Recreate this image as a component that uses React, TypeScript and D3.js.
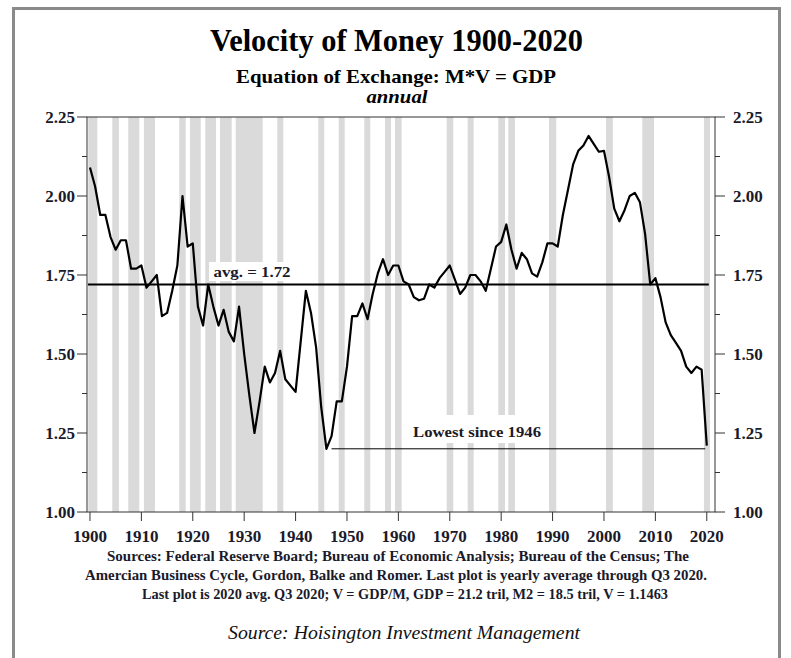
import React from "react";
import * as d3 from "d3";

// ---- data ----
const years: number[] = d3.range(1900, 2021);
const velocity: number[] = [
  2.09, 2.03, 1.94, 1.94, 1.87, 1.83, 1.86, 1.86, 1.77, 1.77,
  1.78, 1.71, 1.73, 1.75, 1.62, 1.63, 1.70, 1.78, 2.00, 1.84,
  1.85, 1.65, 1.59, 1.72, 1.65, 1.59, 1.64, 1.57, 1.54, 1.65,
  1.50, 1.37, 1.25, 1.35, 1.46, 1.41, 1.44, 1.51, 1.42, 1.40,
  1.38, 1.54, 1.70, 1.63, 1.52, 1.33, 1.20, 1.24, 1.35, 1.35,
  1.46, 1.62, 1.62, 1.66, 1.61, 1.69, 1.755, 1.80, 1.75, 1.78,
  1.78, 1.73, 1.72, 1.68, 1.67, 1.675, 1.72, 1.71, 1.74, 1.76,
  1.78, 1.735, 1.69, 1.71, 1.75, 1.75, 1.73, 1.70, 1.77, 1.84,
  1.855, 1.91, 1.83, 1.77, 1.82, 1.80, 1.755, 1.745, 1.79, 1.85,
  1.85, 1.84, 1.94, 2.02, 2.10, 2.143, 2.16, 2.19, 2.165, 2.14,
  2.143, 2.06, 1.96, 1.92, 1.955, 2.00, 2.01, 1.98, 1.88, 1.72,
  1.74, 1.68, 1.60, 1.56, 1.535, 1.51, 1.46, 1.44, 1.46, 1.45,
  1.21,
];
const recessionStart: number[] = [
  1899.67, 1904.34, 1907.45, 1910.5, 1917.37, 1919.46, 1922.43, 1925.29, 1928.35,
  1936.44, 1944.42, 1948.39, 1953.37, 1957.39, 1959.34, 1969.4, 1973.48,
  1979.44, 1981.38, 1989.3, 2000.4, 2007.45, 2019.45,
];
const recessionEnd: number[] = [
  1901.42, 1905.64, 1909.59, 1912.65, 1918.62, 1921.54, 1924.51, 1927.57, 1933.6,
  1937.61, 1945.58, 1949.55, 1954.53, 1958.56, 1960.64, 1970.68, 1974.65,
  1980.74, 1982.68, 1990.72, 2001.72, 2009.73, 2020.62,
];
const yMajorTicks: number[] = [1.0, 1.25, 1.5, 1.75, 2.0, 2.25];
const yMinorTicks: number[] = [1.125, 1.375, 1.625, 1.875, 2.125];
const xTicks: number[] = d3.range(1900, 2021, 10);
const average = 1.72;
const lowYear = 1946;
const lowValue = 1.2;

const title = "Velocity of Money 1900-2020";
const subtitle = "Equation of Exchange: M*V = GDP";
const subtitle2 = "annual";
const avgLabel = "avg. = 1.72";
const lowLabel = "Lowest since 1946";
const sourceLines: string[] = [
  "Sources: Federal Reserve Board; Bureau of Economic Analysis; Bureau of the Census; The",
  "Amercian Business Cycle, Gordon, Balke and Romer. Last plot is yearly average through Q3 2020.",
  "Last plot is 2020 avg.  Q3 2020; V = GDP/M, GDP = 21.2 tril, M2 = 18.5 tril, V = 1.1463",
];
const footer = "Source: Hoisington Investment Management";

// ---- layout ----
const W = 791;
const H = 658;
const left = 87;
const right = 715;
const top = 117;
const bottom = 512;
const serif = "'Liberation Serif', 'Times New Roman', serif";

export default function App() {
  const x = d3.scaleLinear().domain([1899.42, 2021.6]).range([left, right]);
  const y = d3.scaleLinear().domain([1, 2.25]).range([bottom, top]);
  const line = d3
    .line<number>()
    .x((_, i) => x(years[i]))
    .y((d) => y(d));

  const avgY = y(average);
  const lowY = y(lowValue);

  return (
    <svg
      width={W}
      height={H}
      style={{ position: "absolute", left: 0, top: 0, background: "#fff" }}
      fontFamily={serif}
    >
      <rect x={0} y={0} width={W} height={H} fill="#fff" />
      <rect x={13.5} y={8.5} width={766} height={680} fill="none" stroke="#8a8a8a" strokeWidth={3} />

      {/* titles */}
      <text x={396.5} y={51} textAnchor="middle" fontSize={31} fontWeight="bold" textLength={373} lengthAdjust="spacingAndGlyphs">
        {title}
      </text>
      <text x={396} y={83} textAnchor="middle" fontSize={19} fontWeight="bold" textLength={320} lengthAdjust="spacingAndGlyphs">
        {subtitle}
      </text>
      <text x={397} y={103} textAnchor="middle" fontSize={18} fontWeight="bold" fontStyle="italic" textLength={61} lengthAdjust="spacingAndGlyphs">
        {subtitle2}
      </text>

      {/* recession bands */}
      {recessionStart.map((s, i) => (
        <rect key={"r" + i} x={x(s)} y={top} width={x(recessionEnd[i]) - x(s)} height={bottom - top} fill="#dadada" />
      ))}

      {/* avg label box */}
      <rect x={209} y={262} width={85} height={19} fill="#fff" />
      <text x={252} y={277} textAnchor="middle" fontSize={15} fontWeight="bold" fill="#1a1a2a" textLength={77} lengthAdjust="spacingAndGlyphs">
        {avgLabel}
      </text>

      {/* low label box */}
      <rect x={405} y={415} width={140} height={28} fill="#fff" />
      <text x={477} y={437} textAnchor="middle" fontSize={15} fontWeight="bold" fill="#1a1a2a" textLength={128} lengthAdjust="spacingAndGlyphs">
        {lowLabel}
      </text>

      {/* average line */}
      <line x1={x(1899.6)} x2={x(2020.4)} y1={avgY} y2={avgY} stroke="#000" strokeWidth={2} />
      {/* lowest line */}
      <line x1={x(lowYear + 1)} x2={x(2019.7)} y1={lowY} y2={lowY} stroke="#000" strokeWidth={1} />

      {/* series */}
      <path d={line(velocity) || ""} fill="none" stroke="#000" strokeWidth={2.2} strokeLinejoin="round" />

      {/* frame */}
      <rect x={left} y={top} width={right - left} height={bottom - top} fill="none" stroke="#333" strokeWidth={1} />

      {/* y axes */}
      {yMajorTicks.map((t) => (
        <g key={"ym" + t}>
          <line x1={left - 10} x2={left} y1={y(t)} y2={y(t)} stroke="#333" />
          <line x1={right} x2={right + 10} y1={y(t)} y2={y(t)} stroke="#333" />
          <text x={75} y={y(t) + 5.5} textAnchor="end" fontSize={17} fontWeight="bold" fill="#1a1a2a">
            {t.toFixed(2)}
          </text>
          <text x={733} y={y(t) + 5.5} textAnchor="start" fontSize={17} fontWeight="bold" fill="#1a1a2a">
            {t.toFixed(2)}
          </text>
        </g>
      ))}
      {yMinorTicks.map((t) => (
        <g key={"yn" + t}>
          <line x1={left - 5} x2={left} y1={y(t)} y2={y(t)} stroke="#333" />
          <line x1={right} x2={right + 5} y1={y(t)} y2={y(t)} stroke="#333" />
        </g>
      ))}

      {/* x axis */}
      {xTicks.map((t) => (
        <g key={"x" + t}>
          <line x1={x(t)} x2={x(t)} y1={bottom} y2={bottom + 9} stroke="#333" />
          <text x={x(t)} y={542} textAnchor="middle" fontSize={17} fontWeight="bold" fill="#1a1a2a">
            {t}
          </text>
        </g>
      ))}

      {/* sources */}
      <text x={398} y={561} textAnchor="middle" fontSize={14} fontWeight="bold" fill="#1a1a2a" textLength={582} lengthAdjust="spacingAndGlyphs">
        {sourceLines[0]}
      </text>
      <text x={396} y={580} textAnchor="middle" fontSize={14} fontWeight="bold" fill="#1a1a2a" textLength={622} lengthAdjust="spacingAndGlyphs">
        {sourceLines[1]}
      </text>
      <text x={405} y={599} textAnchor="middle" fontSize={14} fontWeight="bold" fill="#1a1a2a" textLength={526} lengthAdjust="spacingAndGlyphs">
        {sourceLines[2]}
      </text>
      <text x={404} y={639} textAnchor="middle" fontSize={19} fontStyle="italic" fill="#111" textLength={352} lengthAdjust="spacingAndGlyphs">
        {footer}
      </text>
    </svg>
  );
}
